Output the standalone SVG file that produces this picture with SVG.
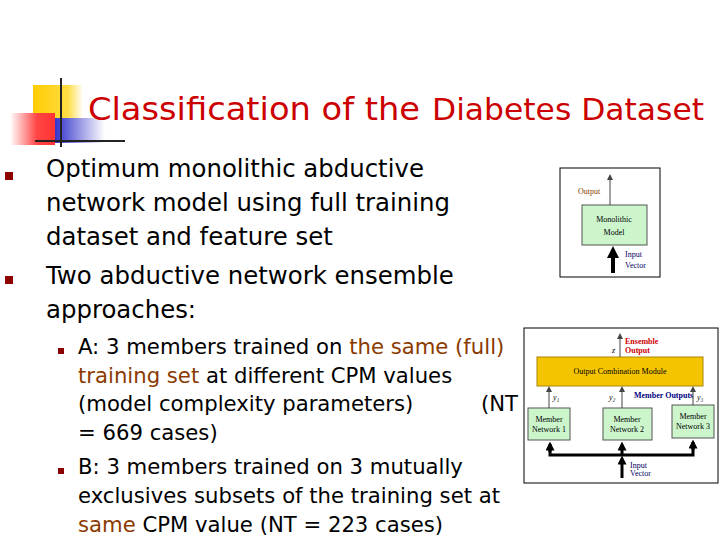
<svg xmlns="http://www.w3.org/2000/svg" width="720" height="540" viewBox="0 0 720 540">
<style>
.t{font-family:"DejaVu Sans","Liberation Sans",sans-serif;fill:#000}
.b{font-size:24.4px}.s{font-size:21.2px}
.r{fill:#cc0000}.o{fill:#8b3a00}
.f{font-family:"Liberation Serif",serif;font-size:8px}
.g{fill:#ccf5cc;stroke:#555;stroke-width:1}
</style>
<defs>
<linearGradient id="rg" x1="0" x2="1"><stop offset="0" stop-color="#fff"/><stop offset="0.6" stop-color="#f44"/><stop offset="1" stop-color="#f33"/></linearGradient>
<linearGradient id="bg" x1="0" x2="1"><stop offset="0" stop-color="#33c"/><stop offset="1" stop-color="#fff"/></linearGradient>
<linearGradient id="yg" x1="0" x2="1"><stop offset="0" stop-color="#fc0"/><stop offset="0.7" stop-color="#fd4"/><stop offset="1" stop-color="#fff"/></linearGradient>
<marker id="a" markerWidth="6" markerHeight="6" refX="3" refY="3" orient="auto"><path d="M0,0L6,3L0,6z" fill="#444"/></marker>
<marker id="A" markerWidth="3" markerHeight="3" refX="1.5" refY="1.5" orient="auto"><path d="M0,0L3,1.5L0,3z" fill="#000"/></marker>
</defs>
<g id="logo">
<rect x="33" y="85" width="50" height="38" fill="url(#yg)"/>
<rect x="55" y="118" width="50" height="25" fill="url(#bg)"/>
<rect x="10" y="113" width="45" height="32" fill="url(#rg)"/>
<line x1="61" y1="78" x2="61" y2="147" stroke="#222" stroke-width="2"/>
<line x1="35" y1="141" x2="125" y2="141" stroke="#222" stroke-width="2"/>
</g>
<text x="88" y="120" class="t r" font-size="32" textLength="332" lengthAdjust="spacingAndGlyphs">Classification of the</text>
<text x="432" y="120" class="t r" font-size="30" textLength="272" lengthAdjust="spacingAndGlyphs">Diabetes Dataset</text>
<g fill="#8b0000"><rect x="5" y="172" width="8" height="8"/><rect x="5" y="276" width="8" height="8"/><rect x="58" y="348" width="6" height="6"/><rect x="58" y="468" width="6" height="6"/></g>
<text class="t b"><tspan x="46" y="177">Optimum monolithic abductive</tspan><tspan x="46" y="211">network model using full training</tspan><tspan x="46" y="245">dataset and feature set</tspan><tspan x="46" y="284">Two abductive network ensemble</tspan><tspan x="46" y="318">approaches:</tspan></text>
<text class="t s"><tspan x="78" y="354">A: 3 members trained on <tspan class="o">the same (full)</tspan></tspan><tspan x="78" y="383" class="o">training set<tspan fill="#000"> at different CPM values</tspan></tspan><tspan x="78" y="411">(model complexity parameters)</tspan><tspan x="481" y="411">(NT</tspan><tspan x="78" y="440">= 669 cases)</tspan><tspan x="78" y="474">B: 3 members trained on 3 mutually</tspan><tspan x="78" y="503">exclusives subsets of the training set at</tspan><tspan x="78" y="532"><tspan class="o">same</tspan> CPM value (NT = 223 cases)</tspan></text>
<g id="mono">
<rect x="560" y="168" width="100" height="109" fill="#fff" stroke="#000"/>
<rect x="582" y="205" width="65" height="40" class="g"/>
<text x="614" y="222" class="f" text-anchor="middle">Monolithic</text><text x="614" y="235" class="f" text-anchor="middle">Model</text>
<text x="578" y="194" class="f o" font-size="9">Output</text>
<text x="625" y="257" class="f" fill="#000066">Input</text><text x="625" y="268" class="f" fill="#000066">Vector</text>
</g>
<g id="ens">
<rect x="524" y="328" width="194" height="155" fill="#fff" stroke="#000"/>
<rect x="537" y="357" width="166" height="29" fill="#f5c400" stroke="#a80"/>
<text x="620" y="374" class="f" text-anchor="middle">Output Combination Module</text>
<rect x="528" y="408" width="42" height="32" class="g"/><text x="549" y="422" class="f" text-anchor="middle">Member</text><text x="549" y="432" class="f" text-anchor="middle">Network 1</text>
<rect x="603" y="408" width="49" height="32" class="g"/><text x="627" y="422" class="f" text-anchor="middle">Member</text><text x="627" y="432" class="f" text-anchor="middle">Network 2</text>
<rect x="672" y="405" width="42" height="33" class="g"/><text x="693" y="419" class="f" text-anchor="middle">Member</text><text x="693" y="429" class="f" text-anchor="middle">Network 3</text>
<text x="625" y="344" class="f r" font-weight="bold">Ensemble</text><text x="625" y="353" class="f r" font-weight="bold">Output</text>
<text x="612" y="353" class="f" font-style="italic">z</text>
<text x="553" y="400" class="f" font-style="italic">y₁</text><text x="609" y="400" class="f" font-style="italic">y₂</text><text x="697" y="400" class="f" font-style="italic">y₃</text>
<text x="634" y="398" class="f" fill="#000080" font-weight="bold">Member Outputs</text>
<text x="630" y="468" class="f" fill="#000066">Input</text><text x="630" y="476" class="f" fill="#000066">Vector</text>
</g>
<g id="connectors" fill="none">
<line x1="610" y1="205" x2="610" y2="177" stroke="#444" marker-end="url(#a)"/>
<line x1="613" y1="273" x2="613" y2="252" stroke="#000" stroke-width="4" marker-end="url(#A)"/>
<line x1="620" y1="357" x2="620" y2="336" stroke="#444" marker-end="url(#a)"/>
<line x1="549" y1="408" x2="549" y2="389" stroke="#444" marker-end="url(#a)"/>
<line x1="622" y1="408" x2="622" y2="389" stroke="#444" marker-end="url(#a)"/>
<line x1="693" y1="405" x2="693" y2="389" stroke="#444" marker-end="url(#a)"/>
<polyline points="550,444 550,455 693,455 693,442" stroke="#000" stroke-width="3"/>
<line x1="550" y1="452" x2="550" y2="446" stroke="#000" stroke-width="3" marker-end="url(#A)"/>
<line x1="622" y1="455" x2="622" y2="446" stroke="#000" stroke-width="3" marker-end="url(#A)"/>
<line x1="693" y1="450" x2="693" y2="444" stroke="#000" stroke-width="3" marker-end="url(#A)"/>
<line x1="622" y1="478" x2="622" y2="460" stroke="#000" stroke-width="3" marker-end="url(#A)"/>
</g>
</svg>
